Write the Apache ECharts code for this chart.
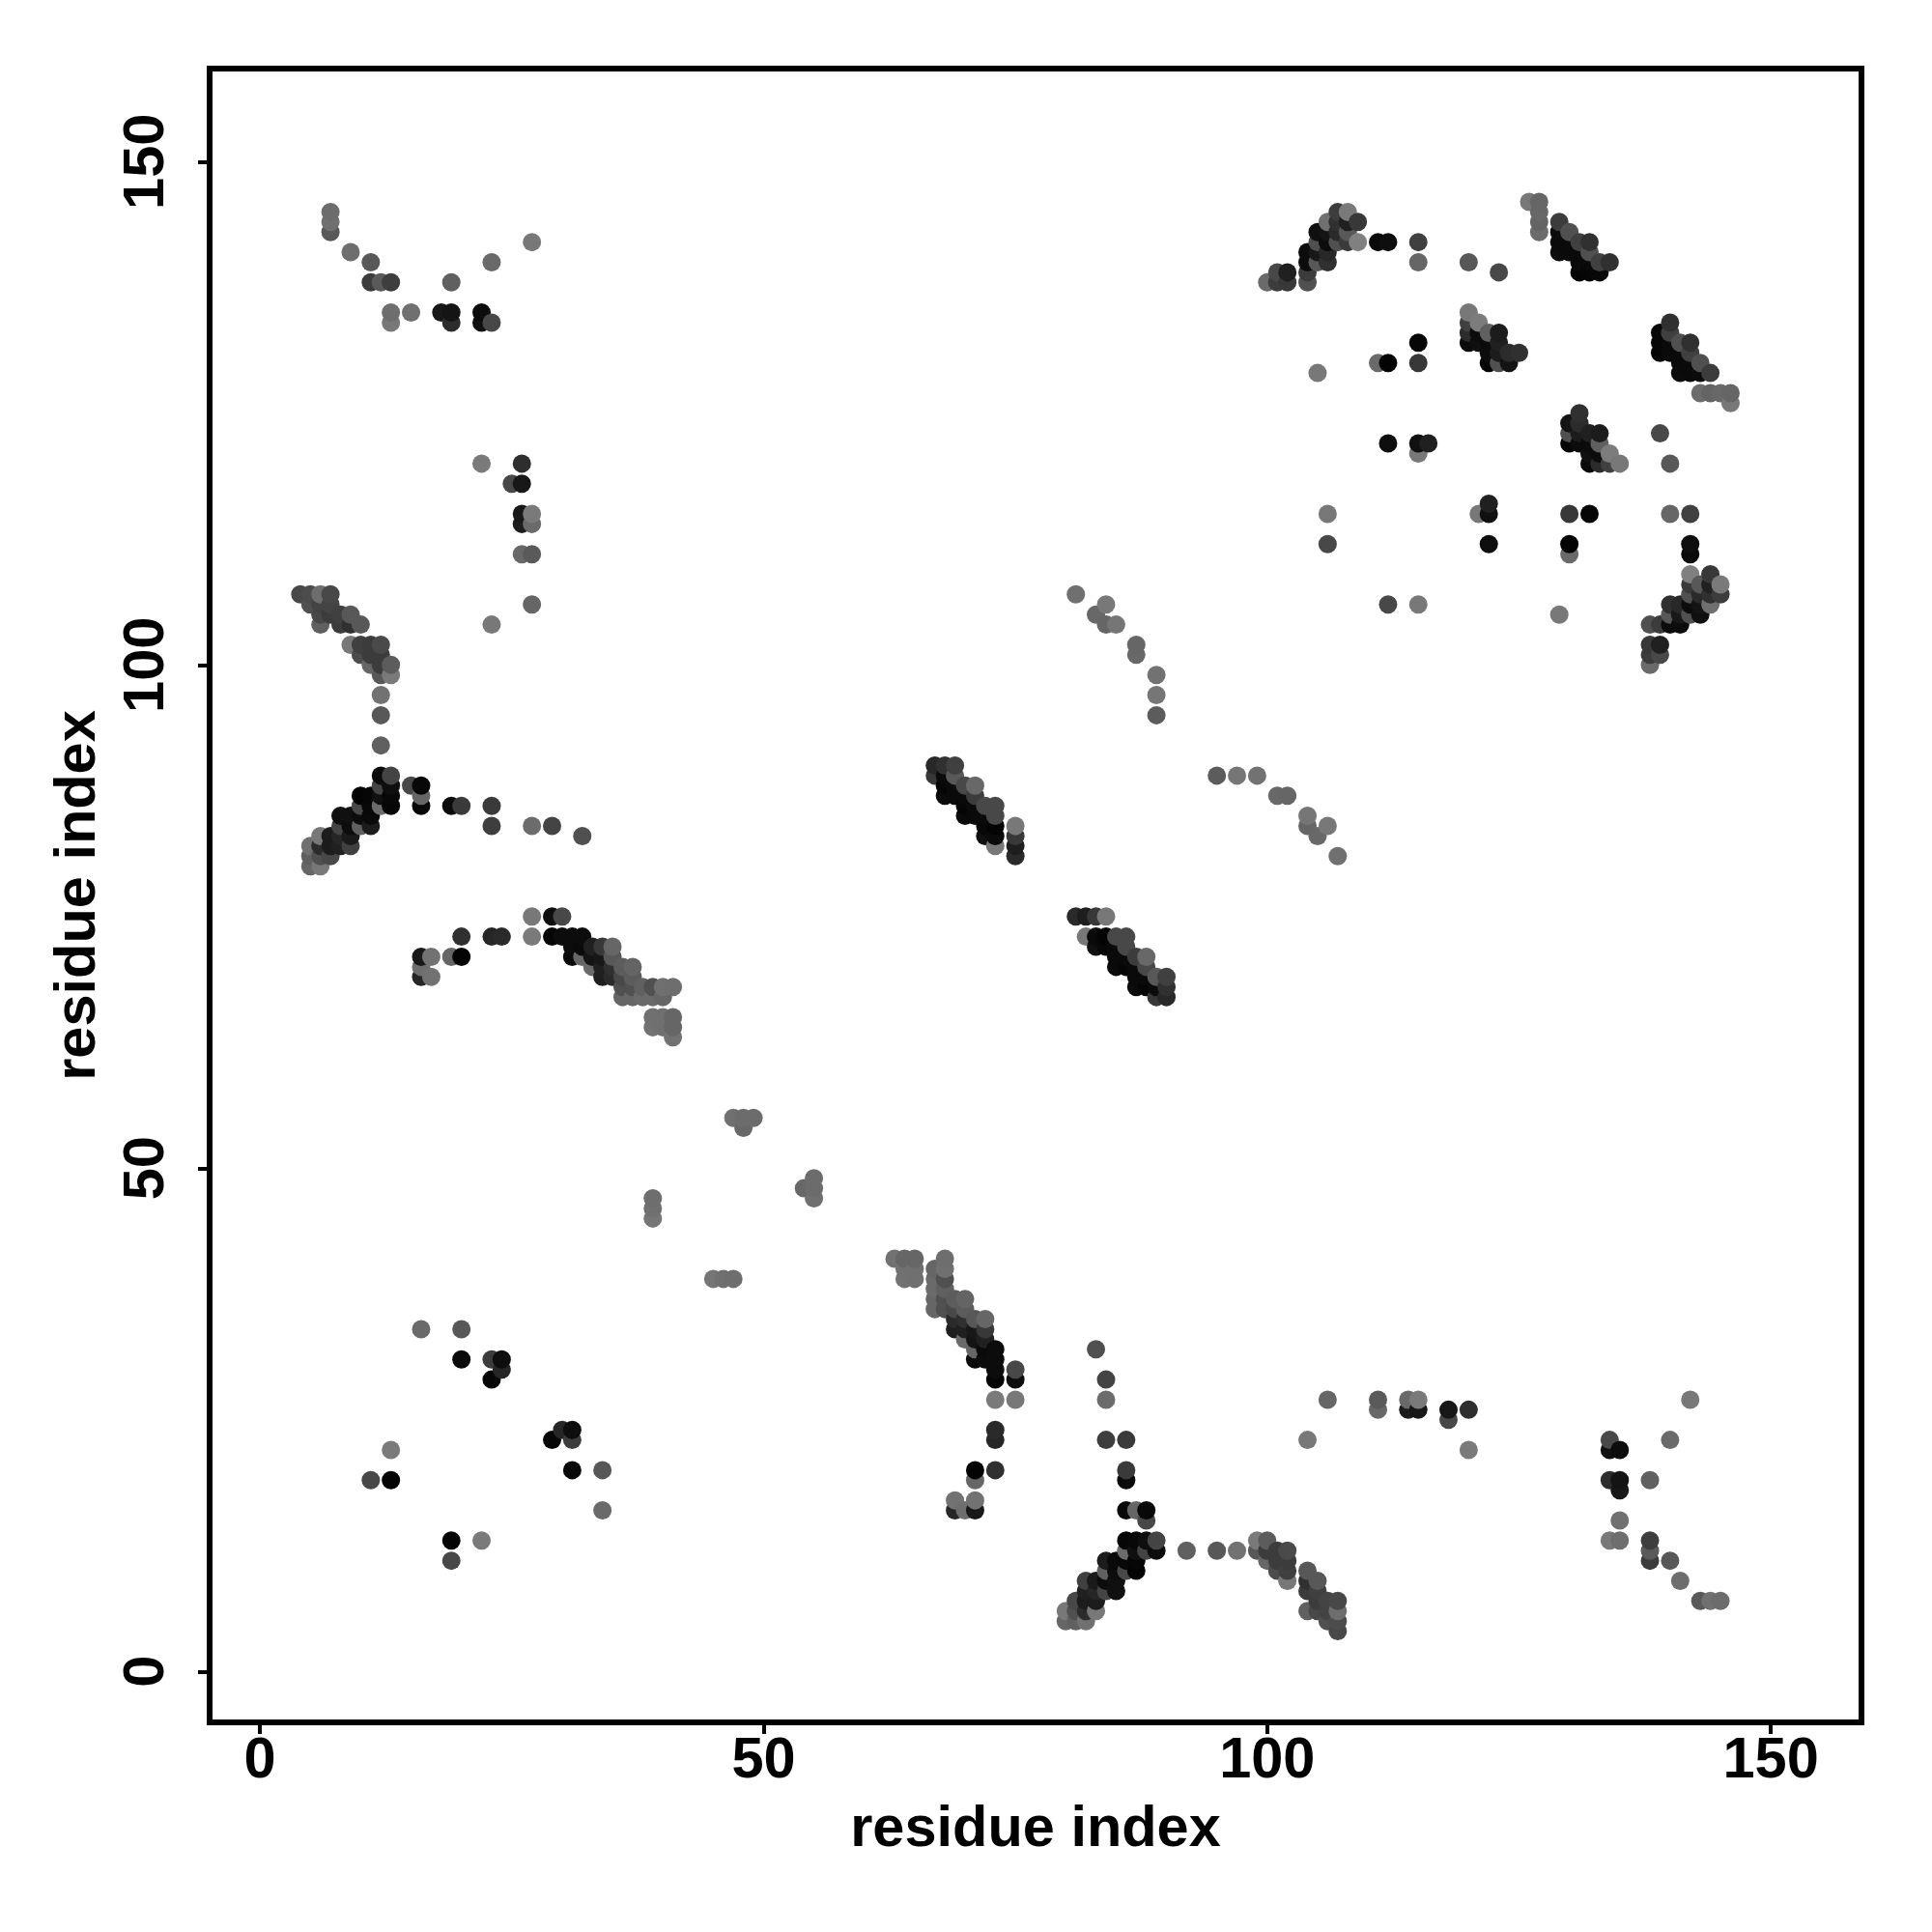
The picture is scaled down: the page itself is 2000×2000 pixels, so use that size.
<!DOCTYPE html>
<html>
<head>
<meta charset="utf-8">
<style>html,body{margin:0;padding:0;background:#fff}#c{width:2000px;height:2000px}</style>
<script src="https://cdn.jsdelivr.net/npm/echarts@6/dist/echarts.min.js"></script>
</head>
<body>
<div id="c"></div>
<script>
// Contacts: [residue i, residue j, grey level]. The map is symmetric.
const xTicks = [0, 50, 100, 150];
const yTicks = [0, 50, 100, 150];
const arcTopLeft = [[7,145,108],[7,144,112],[7,143,88],[9,141,110],[11,140,88],[11,138,60],[12,138,90],[13,138,62],[19,138,96],[23,140,106],[27,142,120],[13,135,110],[13,134,120],[15,135,112],[18,135,24],[19,135,20],[19,134,44],[22,135,12],[22,134,16],[23,134,72]];
const stripUpper = [[22,120,122],[26,120,46],[25,118,72],[26,118,24],[26,115,24],[26,114,28],[27,115,122],[27,114,106],[26,111,104],[27,111,90],[27,106,102],[23,104,120]];
const bandA = [[4,107,72],[5,107,76],[6,107,110],[7,107,72],[5,106,80],[6,106,68],[7,106,68],[6,105,72],[6,104,96],[7,105,60],[8,105,64],[8,104,60],[9,105,88],[9,104,48],[10,104,88],[9,102,120],[10,102,64],[11,102,60],[12,102,74],[10,101,76],[11,101,60],[12,101,60],[11,100,102],[12,100,60],[13,100,92],[12,99,88],[13,99,122],[12,97,114],[12,95,88],[12,92,96]];
const bandB = [[12,89,12],[13,89,68],[15,88,72],[16,88,8],[16,87,102],[16,86,8],[19,86,10],[20,86,58],[23,86,58],[23,84,62],[27,84,108],[29,84,68],[32,83,80],[12,88,68],[13,88,14],[13,87,8],[13,86,6],[12,87,16],[12,86,108],[10,87,4],[11,87,6],[10,86,72],[11,86,8],[8,85,16],[9,85,16],[10,85,12],[11,85,10],[8,84,68],[9,84,12],[10,84,96],[11,84,28],[6,83,120],[7,83,28],[8,83,38],[9,83,26],[5,82,112],[6,82,44],[7,82,28],[8,82,32],[9,82,64],[5,81,96],[6,81,80],[7,81,72],[5,80,102],[6,80,120]];
const bandC = [[27,75,120],[29,75,14],[30,75,72],[27,73,122],[29,73,6],[30,73,12],[31,73,12],[32,73,12],[20,73,48],[23,73,38],[24,73,42],[16,71,24],[17,71,114],[19,71,102],[20,71,4],[16,70,110],[16,69,38],[17,69,114],[31,72,12],[32,72,10],[33,72,32],[34,72,56],[35,72,102],[31,71,10],[32,71,102],[33,71,20],[34,71,24],[35,71,88],[33,70,106],[34,70,32],[35,70,48],[36,70,92],[37,70,100],[34,69,30],[35,69,42],[36,69,72],[37,69,92],[36,68,80],[37,68,80],[38,68,96],[39,68,80],[40,68,112],[41,68,110],[36,67,102],[37,67,102],[38,67,106],[39,67,106],[40,67,102],[39,65,112],[40,65,112],[41,65,102],[39,64,114],[40,64,112],[41,64,102],[41,63,114]];
const centreBits = [[39,47,110],[39,46,112],[39,45,118],[47,55,112],[48,55,108],[48,54,104],[49,55,108]];
const lowerLeft = [[16,34,106],[20,34,88],[20,31,10],[23,31,60],[24,31,14],[24,30,38],[23,29,6],[13,22,122],[11,19,72],[13,19,4]];
const bandD = [[67,90,40],[68,90,48],[69,90,64],[67,89,56],[68,89,10],[69,89,88],[68,88,6],[69,88,10],[70,88,72],[71,88,104],[68,87,12],[69,87,10],[70,87,10],[71,87,60],[70,86,6],[71,86,10],[72,86,72],[73,86,72],[70,85,10],[71,85,10],[72,85,10],[73,85,72],[72,84,8],[73,84,4],[72,83,16],[73,83,10],[73,82,120],[75,84,120],[75,83,56],[75,82,30],[75,81,42]];
const arcMiddle = [[81,107,112],[84,106,120],[83,105,104],[84,104,102],[85,104,118],[87,102,102],[87,101,104],[89,99,114],[89,97,118],[89,95,92]];
const bandE = [[100,138,106],[101,139,72],[101,138,60],[102,139,32],[102,138,56],[104,139,60],[104,138,80],[104,141,12],[104,140,12],[105,143,16],[105,142,80],[105,141,24],[105,140,88],[106,144,112],[106,143,20],[106,142,12],[106,141,40],[106,140,48],[107,145,60],[107,144,48],[107,143,42],[107,142,80],[108,145,122],[108,144,32],[108,143,88],[108,142,58],[109,144,56],[109,142,128]];
const scatterTop = [[111,142,10],[112,142,14],[115,142,64],[115,140,102],[120,140,88],[123,139,72],[115,132,6],[115,130,56],[111,130,106],[112,130,4],[105,129,120],[112,122,14],[115,122,16],[116,122,32],[115,121,120]];
const bandF = [[120,135,120],[121,134,124],[122,133,96],[120,134,64],[120,133,44],[120,132,10],[121,133,12],[121,132,16],[123,133,28],[122,132,12],[123,132,32],[122,131,12],[123,131,28],[124,131,44],[125,131,48],[122,130,6],[123,130,80],[124,130,20]];
const bandG = [[126,146,120],[127,146,102],[127,145,104],[127,144,100],[127,143,108],[129,144,60],[130,143,80],[129,143,12],[129,142,10],[129,141,12],[130,142,10],[130,141,10],[131,142,64],[132,142,48],[131,141,10],[132,141,80],[131,140,10],[132,140,10],[133,140,64],[134,140,48],[131,139,4],[132,139,6],[133,139,8]];
const scatterRight = [[106,112,72],[106,115,120],[130,115,58],[132,115,6],[140,115,96],[142,115,72],[130,112,4],[130,111,106],[142,112,12],[142,111,12]];
const groups = [arcTopLeft, stripUpper, bandA, bandB, bandC, centreBits, lowerLeft, bandD, arcMiddle, bandE, scatterTop, bandF, bandG, scatterRight];

const seen = {};
const points = [];
groups.forEach(function (g) {
  g.forEach(function (p) {
    [[p[0], p[1]], [p[1], p[0]]].forEach(function (q) {
      const k = q[0] + '_' + q[1];
      if (!seen[k]) { seen[k] = 1; points.push([q[0], q[1], p[2]]); }
    });
  });
});
points.sort(function (a, b) { return a[0] - b[0] || a[1] - b[1]; });

const FONT = '"Liberation Sans", Arial, sans-serif';
const chart = echarts.init(document.getElementById('c'), null, { renderer: 'canvas' });
chart.setOption({
  animation: false,
  backgroundColor: '#ffffff',
  grid: { left: 217, top: 71, width: 1710, height: 1712, show: true, borderColor: '#000', borderWidth: 6, backgroundColor: 'transparent', z: 5 },
  xAxis: {
    type: 'value', min: -5, max: 159, name: 'residue index', nameLocation: 'middle', nameGap: 82,
    nameTextStyle: { fontFamily: FONT, fontWeight: 'bold', fontSize: 59.5, color: '#000' },
    splitLine: { show: false }, axisLine: { show: false, onZero: false },
    axisTick: { show: true, length: 12, inside: false, customValues: xTicks, lineStyle: { color: '#000', width: 4 } },
    axisLabel: { show: true, margin: 11, customValues: xTicks, fontFamily: FONT, fontWeight: 'bold', fontSize: 59.5, color: '#000' }
  },
  yAxis: {
    type: 'value', min: -5.06, max: 159.24, name: 'residue index', nameLocation: 'middle', nameGap: 105, nameRotate: 90,
    nameTextStyle: { fontFamily: FONT, fontWeight: 'bold', fontSize: 59.5, color: '#000' },
    splitLine: { show: false }, axisLine: { show: false, onZero: false },
    axisTick: { show: true, length: 12, inside: false, customValues: yTicks, lineStyle: { color: '#000', width: 4 } },
    axisLabel: { show: true, rotate: 90, margin: 64, customValues: yTicks, align: 'center', verticalAlign: 'middle', fontFamily: FONT, fontWeight: 'bold', fontSize: 59.5, color: '#000' }
  },
  series: [{
    type: 'scatter', data: points, symbol: 'circle', symbolSize: 19, silent: true, large: false, progressive: 0,
    encode: { x: 0, y: 1 },
    itemStyle: { opacity: 1, color: function (p) { const g = p.value[2]; return 'rgb(' + g + ',' + g + ',' + g + ')'; } }
  }]
});
</script>
</body>
</html>
